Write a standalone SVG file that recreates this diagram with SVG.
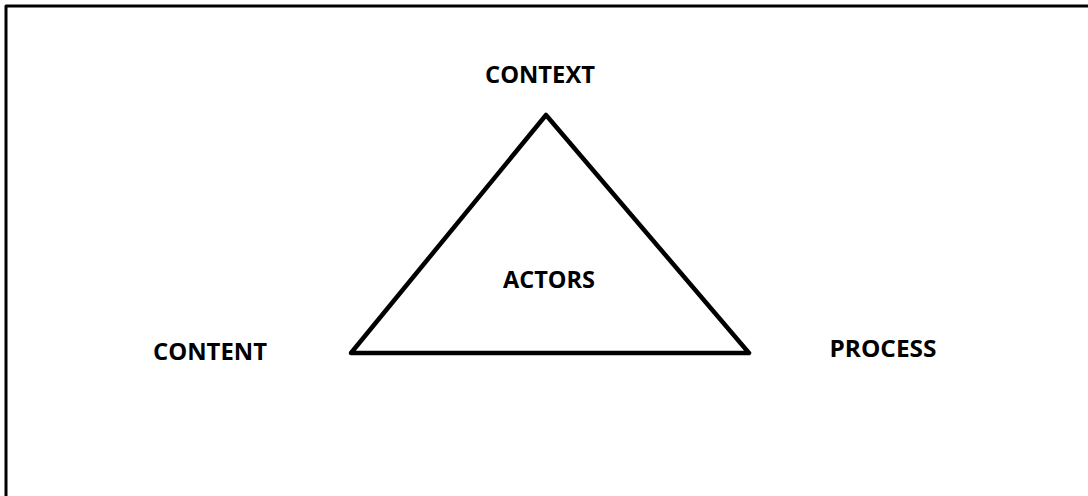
<svg xmlns="http://www.w3.org/2000/svg" width="1088" height="496" viewBox="0 0 1088 496">
<style>
.lbl{font-family:"Open Sans","Liberation Sans",Arial,sans-serif;font-weight:bold;font-size:23px;fill:#000;text-anchor:middle}
.ln{fill:none;stroke:#000;stroke-linejoin:round}
</style>
<rect width="1088" height="496" fill="#fff"/>
<g id="frame"><path class="ln" d="M6,496 V6 H1088" stroke-width="3"/></g>
<g id="connectors"><path class="ln" d="M546,115 L749,353 L351,353 Z" stroke-width="4.5"/></g>
<g id="context"><text class="lbl" x="540" y="83" textLength="110" lengthAdjust="spacingAndGlyphs">CONTEXT</text></g>
<g id="actors"><text class="lbl" x="549" y="288" textLength="92" lengthAdjust="spacingAndGlyphs">ACTORS</text></g>
<g id="content"><text class="lbl" x="210" y="360" textLength="114" lengthAdjust="spacingAndGlyphs">CONTENT</text></g>
<g id="process"><text class="lbl" x="883" y="357" textLength="107" lengthAdjust="spacingAndGlyphs">PROCESS</text></g>
</svg>
